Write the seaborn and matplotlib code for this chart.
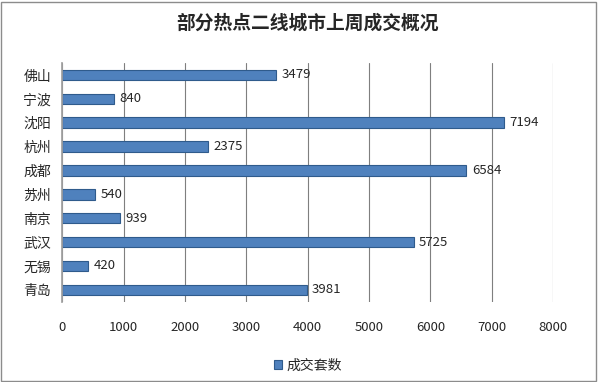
import matplotlib
matplotlib.use("Agg")
import matplotlib.pyplot as plt
import seaborn as sns
import pandas as pd
import numpy as np
from matplotlib.patches import Rectangle

cities = ["佛山", "宁波", "沈阳", "杭州", "成都", "苏州", "南京", "武汉", "无锡", "青岛"]
values = [3479, 840, 7194, 2375, 6584, 540, 939, 5725, 420, 3981]
xticks = [0, 1000, 2000, 3000, 4000, 5000, 6000, 7000, 8000]
series_name = "成交套数"
title = "部分热点二线城市上周成交概况"

sns.set_theme(style="white")
plt.rcParams['font.family'] = ['Noto Sans CJK SC', 'DejaVu Sans']

df = pd.DataFrame({"city": cities, "value": values, "series": series_name})

fig = plt.figure(figsize=(5.98, 3.82), dpi=100)
ax = fig.add_axes([0.104, 0.21, 0.821, 0.625])

sns.barplot(data=df, x="value", y="city", hue="series", palette=["#4F81BD"],
            saturation=1, width=0.44, edgecolor="#2F5B8C", linewidth=0.8,
            ax=ax, legend=True)

ax.set_xlim(0, 8000)
ax.set_xticks(xticks)
ax.set_xticklabels([str(t) for t in xticks], fontsize=9.5)
ax.set_ylim(len(cities) - 0.5, -0.5)
ax.set_xlabel("")
ax.set_ylabel("")
ax.tick_params(axis="y", labelsize=10, length=0, pad=8)
ax.tick_params(axis="x", length=0, pad=14)
ax.grid(axis="x", color="#7F7F7F", linewidth=0.8)
ax.set_axisbelow(True)
for s in ["top", "right", "bottom"]:
    ax.spines[s].set_visible(False)
ax.spines["left"].set_color("#A0A0A0")
ax.set_yticks(np.arange(-0.5, len(cities), 1), minor=True)
ax.tick_params(axis="y", which="minor", length=4, color="#A0A0A0", direction="out")

for c in ax.containers:
    ax.bar_label(c, labels=[str(v) for v in values], padding=4, fontsize=9.5)

ax.set_title(title, fontsize=13.5, fontweight="bold", pad=25)

leg = ax.legend(loc="upper center", bbox_to_anchor=(0.5, -0.185), frameon=False,
                fontsize=10, handlelength=0.6, handleheight=0.6, handletextpad=0.3)

fig.patches.append(Rectangle((0.002, 0.003), 0.995, 0.993, transform=fig.transFigure,
                             fill=False, edgecolor="#8C8C8C", linewidth=1.0))

fig.savefig("out.png", dpi=100)
